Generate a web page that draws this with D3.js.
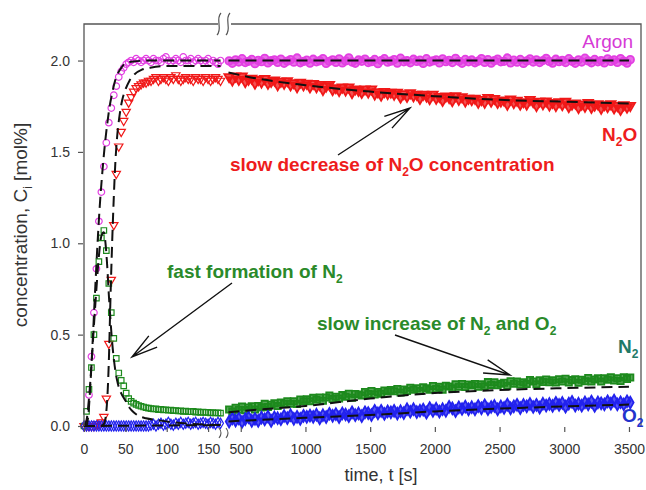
<!DOCTYPE html>
<html lang="en">
<head>
<meta charset="utf-8">
<title>Concentration vs time</title>
<script src="https://cdn.jsdelivr.net/npm/d3@7"></script>
<style>
  body { margin: 0; background: #fff; }
  text { font-family: "Liberation Sans", Arial, sans-serif; }
</style>
</head>
<body>
<script>
// sampling times (s) for the two parts of the broken time axis
var tLeft = d3.range(0, 166, 3);       // 0 .. 165 s
var tRight = d3.range(410, 3511, 25);  // 410 .. 3510 s

// measured concentrations, mol%  (left part: 0-165 s)
var argonLeft = [0.00,0.01,0.17,0.38,0.62,0.86,1.12,1.28,1.42,1.55,1.66,1.74,1.81,1.86,1.91,1.94,1.96,1.98,1.99,
  2.00,1.99,2.01,2.00,1.99,2.00,2.01,2.00,1.99,2.01,2.00,2.00,1.99,2.01,2.02,2.00,1.99,2.00,2.01,2.00,
  1.99,2.02,2.00,2.00,2.01,1.99,2.00,2.01,2.00,1.99,2.00,2.01,1.99,2.00,1.99,1.98,2.00];
var n2oLeft = [0.00,0.00,0.00,0.00,0.00,0.01,0.01,0.02,0.05,0.15,0.45,0.80,1.10,1.38,1.53,1.61,1.67,1.72,1.77,
  1.80,1.83,1.85,1.86,1.87,1.88,1.88,1.89,
  1.89,1.90,1.91,1.89,1.90,1.91,1.90,1.89,1.91,1.90,1.92,1.90,1.89,1.90,1.91,1.90,1.90,1.89,1.91,1.90,
  1.90,1.89,1.91,1.90,1.89,1.90,1.91,1.90,1.89];
var n2Left = [0.00,0.08,0.20,0.32,0.50,0.70,0.90,1.03,1.07,0.96,0.78,0.62,0.48,0.37,0.29,0.25,0.22,0.18,0.15,
  0.135,0.125,0.118,0.112,0.108,0.104,0.100,0.098,
  0.095,0.093,0.094,0.090,0.091,0.088,0.089,0.086,0.087,0.084,0.085,0.082,0.083,0.080,0.081,0.079,0.078,
  0.080,0.076,0.077,0.075,0.076,0.074,0.075,0.072,0.073,0.071,0.072,0.070];
var o2Left = [0,0,0,0,0,0,0,0,0,0,0,0,0,0,0,0,0,0,0,0,0,0,0,0,0,0,0,
  0.005,0.010,0.000,0.010,0.015,0.005,0.010,0.020,0.010,0.005,0.015,0.010,0.020,0.010,0.015,0.020,0.010,
  0.015,0.020,0.010,0.015,0.020,0.015,0.010,0.020,0.015,0.010,0.020,0.015];

// right part: 410-3510 s
var argonRight = [
  1.998,1.985,2.004,1.992,2.010,1.989,1.996,2.006,1.983,2.001,1.994,2.012,1.987,1.999,2.003,1.990,2.008,1.985,1.997,2.005,1.991,2.014,1.988,1.995,2.002,
  1.986,2.007,1.993,1.999,2.011,1.984,1.996,2.004,1.990,2.009,1.987,1.998,2.015,1.992,1.985,2.003,1.996,2.008,1.989,1.994,2.006,1.983,2.000,2.010,1.991,
  1.997,2.005,1.986,2.013,1.993,1.999,1.988,2.007,1.995,2.002,1.984,2.010,1.992,1.998,2.004,1.987,2.009,1.994,2.001,1.989,2.012,1.996,1.985,2.006,1.993,
  2.003,1.988,1.997,2.011,1.990,2.005,1.986,1.999,2.008,1.993,1.996,2.014,1.987,2.002,1.991,2.006,1.984,1.998,2.009,1.992,2.004,1.989,2.000,2.012,1.995,
  1.986,2.007,1.994,2.001,1.989,2.010,1.996,1.985,2.004,1.992,2.013,1.998,1.988,2.006,1.993,2.000,1.987,2.009,1.995,2.003,1.990,2.011,1.997,1.986,2.005];
var n2oRight = [
  1.911,1.893,1.914,1.896,1.914,1.884,1.897,1.903,1.876,1.895,1.882,1.901,1.875,1.885,1.893,1.867,1.886,1.875,1.889,1.866,1.878,1.856,1.881,1.866,1.875,
  1.855,1.874,1.856,1.868,1.841,1.859,1.868,1.840,1.851,1.835,1.854,1.838,1.855,1.824,1.844,1.836,1.825,1.844,1.827,1.844,1.816,1.828,1.810,1.830,1.819,
  1.826,1.815,1.826,1.799,1.818,1.803,1.823,1.806,1.815,1.792,1.815,1.805,1.791,1.815,1.793,1.803,1.781,1.805,1.797,1.780,1.807,1.787,1.801,1.778,1.793,
  1.785,1.793,1.771,1.786,1.771,1.797,1.777,1.792,1.770,1.778,1.783,1.760,1.789,1.769,1.782,1.761,1.774,1.761,1.786,1.774,1.753,1.777,1.763,1.778,1.756,
  1.770,1.753,1.774,1.758,1.776,1.747,1.761,1.767,1.742,1.761,1.749,1.769,1.743,1.755,1.763,1.738,1.758,1.747,1.763,1.740,1.753,1.732,1.757,1.744,1.753];
var n2Right = [
  0.090,0.079,0.100,0.089,0.106,0.087,0.101,0.108,0.090,0.109,0.102,0.121,0.104,0.116,0.125,0.109,0.128,0.122,0.136,0.122,0.135,0.121,0.145,0.136,0.146,
  0.136,0.154,0.144,0.156,0.138,0.156,0.167,0.148,0.160,0.150,0.169,0.160,0.177,0.155,0.175,0.172,0.167,0.186,0.175,0.192,0.173,0.186,0.176,0.194,0.189,
  0.197,0.190,0.203,0.183,0.200,0.191,0.209,0.198,0.207,0.192,0.212,0.206,0.198,0.219,0.203,0.214,0.199,0.220,0.216,0.206,0.229,0.215,0.230,0.213,0.227,
  0.222,0.230,0.215,0.228,0.218,0.240,0.225,0.239,0.223,0.231,0.237,0.220,0.245,0.231,0.243,0.227,0.239,0.230,0.252,0.244,0.229,0.250,0.241,0.254,0.239,
  0.250,0.238,0.256,0.244,0.259,0.238,0.251,0.256,0.237,0.253,0.245,0.263,0.243,0.254,0.261,0.243,0.261,0.253,0.266,0.249,0.261,0.246,0.267,0.257,0.265];
var o2Right = [
  0.024,0.041,0.030,0.041,0.022,0.038,0.048,0.028,0.039,0.028,0.046,0.036,0.052,0.028,0.047,0.043,0.037,0.055,0.043,0.059,0.039,0.050,0.039,0.056,0.050,
  0.057,0.050,0.062,0.042,0.059,0.049,0.067,0.056,0.065,0.049,0.069,0.063,0.054,0.075,0.059,0.069,0.054,0.075,0.071,0.060,0.083,0.069,0.083,0.066,0.080,
  0.075,0.083,0.068,0.081,0.071,0.092,0.078,0.092,0.076,0.084,0.090,0.073,0.098,0.083,0.095,0.079,0.092,0.083,0.105,0.097,0.082,0.102,0.093,0.106,0.091,
  0.103,0.091,0.109,0.097,0.113,0.092,0.104,0.110,0.091,0.107,0.099,0.117,0.097,0.108,0.116,0.098,0.115,0.108,0.121,0.104,0.116,0.101,0.122,0.112,0.121,
  0.110,0.127,0.115,0.126,0.106,0.123,0.132,0.112,0.122,0.111,0.129,0.118,0.134,0.110,0.129,0.124,0.118,0.135,0.123,0.139,0.118,0.130,0.118,0.135,0.128];

// model fits (dashed)
var argonFitT = [0,3,5,8,10,13,16,19,22,25,28,31,34,37,40,45,50,60,80,120,165];
var argonFitV = [0,0,0.05,0.25,0.42,0.70,0.97,1.20,1.38,1.53,1.65,1.75,1.82,1.88,1.92,1.96,1.985,1.995,2.0,2.0,2.0];
var n2oFitT = [0,20,24,27,30,32,34,36,38,40,43,46,50,55,60,70,80,100,130,165];
var n2oFitV = [0,0,0.01,0.08,0.35,0.70,1.00,1.25,1.45,1.58,1.70,1.78,1.84,1.89,1.92,1.95,1.96,1.97,1.97,1.97];
var n2FitT = [0,3,6,9,12,15,18,21,24,26,28,30,32,34,36,38,40,43,46,50,55,60,65,75,88,108,130,165];
var n2FitV = [0,0.03,0.15,0.33,0.55,0.75,0.93,1.04,1.06,1.00,0.88,0.72,0.58,0.46,0.37,0.30,0.25,0.20,0.17,0.14,0.10,0.075,0.058,0.042,0.033,0.02,0.012,0.005];
var o2FitT = [0,165];
var o2FitV = [0,0.005];
var fitTRight = [405,600,1000,1500,2000,2500,3000,3500];
var argonFitR = [2.0,2.0,2.0,2.0,2.0,2.0,2.0,2.0];
var n2oFitR = [1.935,1.905,1.865,1.83,1.805,1.785,1.775,1.765];
var n2FitR = [0.075,0.088,0.11,0.15,0.18,0.197,0.207,0.215];
var o2FitR = [0.025,0.032,0.045,0.06,0.08,0.095,0.107,0.117];

var yTicks = [0, 0.5, 1.0, 1.5, 2.0];
var xTicksLeft = [0, 50, 100, 150];
var xTicksRight = [500, 1000, 1500, 2000, 2500, 3000, 3500];

var width = 646, height = 490;
var plotL = 84, plotR = 641, plotT = 24, plotB = 426;

var xL = d3.scaleLinear().domain([0, 165]).range([84, 220.5]);
var xR = d3.scaleLinear().domain([386, 3593]).range([226, 641]);
var y = d3.scaleLinear().domain([0, 2.2]).range([plotB, plotT]);

var svg = d3.select("body").append("svg")
    .attr("width", width)
    .attr("height", height);

var series = [
  {name: "argon", color: "#e23fe2", sym: d3.symbolCircle, size: 34, rot: 0, l: argonLeft, r: argonRight},
  {name: "n2o", color: "#f01818", sym: d3.symbolTriangle, size: 30, rot: 180, l: n2oLeft, r: n2oRight},
  {name: "n2", color: "#1d8a1d", sym: d3.symbolSquare, size: 30, rot: 0, l: n2Left, r: n2Right},
  {name: "o2", color: "#2222ee", sym: d3.symbolDiamond, size: 30, rot: 0, l: o2Left, r: o2Right}
];

// markers (the long run is so dense that the symbols merge into a band)
series.forEach(function(s) {
  var path = d3.symbol().type(s.sym).size(s.size)();
  var pathR = d3.symbol().type(s.sym).size(s.size * 1.3)();
  var g = svg.append("g").attr("class", "pts " + s.name);
  g.selectAll("path.l")
    .data(tLeft.map(function(t, i) { return [t, s.l[i]]; }))
    .enter().append("path")
    .attr("d", path)
    .attr("transform", function(d) { return "translate(" + xL(d[0]) + "," + y(d[1]) + ") rotate(" + s.rot + ")"; })
    .attr("fill", "none")
    .attr("stroke", s.color)
    .attr("stroke-width", 1.2);
  g.selectAll("path.r")
    .data(tRight.map(function(t, i) { return [t, s.r[i]]; }))
    .enter().append("path")
    .attr("d", pathR)
    .attr("transform", function(d) { return "translate(" + xR(d[0]) + "," + y(d[1]) + ") rotate(" + s.rot + ")"; })
    .attr("fill", s.color)
    .attr("fill-opacity", 0.75)
    .attr("stroke", s.color)
    .attr("stroke-width", 1.8);
});

// dashed fits
function fit(xs, ts, vs) {
  var line = d3.line()
    .x(function(d) { return xs(d[0]); })
    .y(function(d) { return y(d[1]); })
    .curve(d3.curveMonotoneX);
  svg.append("path")
    .attr("d", line(ts.map(function(t, i) { return [t, vs[i]]; })))
    .attr("fill", "none")
    .attr("stroke", "#111")
    .attr("stroke-width", 2)
    .attr("stroke-dasharray", "11,6");
}
fit(xL, argonFitT, argonFitV);
fit(xL, n2oFitT, n2oFitV);
fit(xL, n2FitT, n2FitV);
fit(xL, o2FitT, o2FitV);
fit(xR, fitTRight, argonFitR);
fit(xR, fitTRight, n2oFitR);
fit(xR, fitTRight, n2FitR);
fit(xR, fitTRight, o2FitR);

// frame
var frame = "#555";
svg.append("path")
  .attr("d", "M" + plotL + "," + plotB + "V" + plotT + "H218 M231," + plotT + "H" + plotR + "V" + plotB)
  .attr("fill", "none").attr("stroke", frame).attr("stroke-width", 1.3);
// break marks
[219, 228].forEach(function(bx) {
  svg.append("path")
    .attr("d", "M" + (bx + 2) + ",13 C" + (bx - 4) + ",19 " + (bx + 4) + ",29 " + (bx - 2) + ",35")
    .attr("fill", "none").attr("stroke", frame).attr("stroke-width", 1.2);
});
[219, 226].forEach(function(bx) {
  svg.append("path")
    .attr("d", "M" + bx + ",428 q4,5 0,10")
    .attr("fill", "none").attr("stroke", frame).attr("stroke-width", 1.1);
});

// axes
function styleAxis(g) {
  g.select(".domain").remove();
  g.selectAll(".tick line").attr("stroke", frame).attr("stroke-width", 1.2);
  g.selectAll(".tick text").attr("fill", "#333").style("font-size", "14px")
    .style("font-family", '"Liberation Sans", Arial, sans-serif');
}
svg.append("g")
  .attr("transform", "translate(" + (plotL - 1) + ",0)")
  .call(d3.axisLeft(y).tickValues(yTicks).tickFormat(d3.format(".1f")).tickSize(5).tickPadding(8))
  .call(styleAxis);
svg.append("g")
  .attr("transform", "translate(0," + (plotB + 1) + ")")
  .call(d3.axisBottom(xL).tickValues(xTicksLeft).tickFormat(d3.format("d")).tickSize(5).tickPadding(12))
  .call(styleAxis);
svg.append("g")
  .attr("transform", "translate(0," + (plotB + 1) + ")")
  .call(d3.axisBottom(xR).tickValues(xTicksRight).tickFormat(d3.format("d")).tickSize(5).tickPadding(12))
  .call(styleAxis);

// text with subscripts: parts = [[text, isSub], ...]
function label(x, yy, parts, color, size, weight, anchor, rotate) {
  var t = svg.append("text")
    .attr("fill", color)
    .style("font-size", size + "px")
    .style("font-weight", weight || "normal")
    .attr("text-anchor", anchor || "start");
  if (rotate) t.attr("transform", "translate(" + x + "," + yy + ") rotate(" + rotate + ")");
  else t.attr("x", x).attr("y", yy);
  var shift = 0;
  parts.forEach(function(p) {
    var sp = t.append("tspan").text(p[0]);
    if (p[1]) {
      sp.style("font-size", Math.round(size * 0.65) + "px").attr("dy", 5 - shift);
      shift = 5;
    } else if (shift) {
      sp.attr("dy", -shift);
      shift = 0;
    }
  });
  return t;
}

label(27, 225, [["concentration, C"], ["i", 1], [" [mol%]"]], "#333", 19, "normal", "middle", -90);
label(381, 481, [["time, t [s]"]], "#333", 18, "normal", "middle");

label(633, 48, [["Argon"]], "#d63ad6", 19, "normal", "end");
label(602, 141, [["N"], ["2", 1], ["O"]], "#ee1c1c", 19, "bold");
label(230, 171, [["slow decrease of N"], ["2", 1], ["O concentration"]], "#ee1c1c", 19, "bold");
label(167, 278, [["fast formation of N"], ["2", 1]], "#2a8a2a", 19, "bold");
label(317, 330, [["slow increase of N"], ["2", 1], [" and O"], ["2", 1]], "#2a8a2a", 19, "bold");
label(618, 353, [["N"], ["2", 1]], "#1f7a68", 19, "bold");
label(622, 422, [["O"], ["2", 1]], "#2233cc", 19, "bold");

// arrows with open heads
function arrow(x1, y1, x2, y2) {
  var a = Math.atan2(y1 - y2, x1 - x2), len = 27, spread = 15 * Math.PI / 180;
  var b1 = [x2 + len * Math.cos(a + spread), y2 + len * Math.sin(a + spread)];
  var b2 = [x2 + len * Math.cos(a - spread), y2 + len * Math.sin(a - spread)];
  svg.append("path")
    .attr("d", "M" + x1 + "," + y1 + "L" + x2 + "," + y2 +
      "M" + b1[0] + "," + b1[1] + "L" + x2 + "," + y2 + "L" + b2[0] + "," + b2[1])
    .attr("fill", "none").attr("stroke", "#111").attr("stroke-width", 1.4);
}
arrow(338, 155, 410, 108);
arrow(232, 283, 132, 357);
arrow(395, 335, 510, 375);
</script>
</body>
</html>
